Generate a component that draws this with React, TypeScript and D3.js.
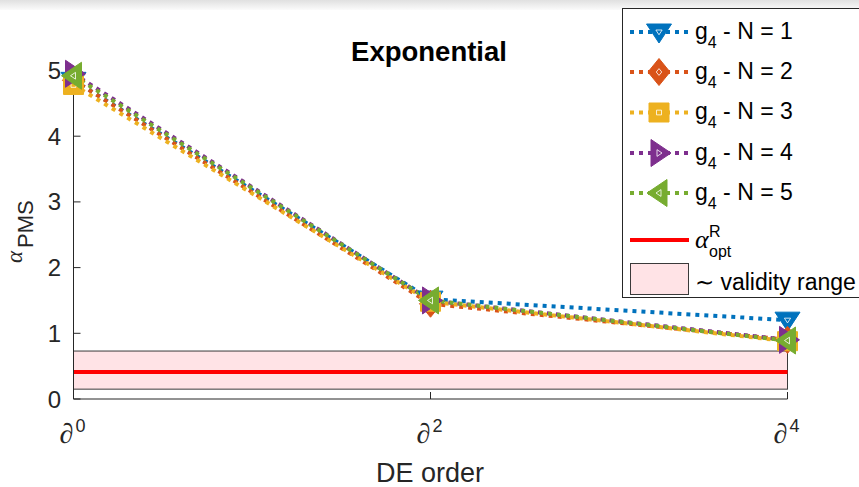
import React from "react";
import * as d3 from "d3";

const W = 859;
const H = 487;

const orders = [0, 2, 4];
const xTickLabels = ["0", "2", "4"];
const yTicks = [0, 1, 2, 3, 4, 5];

const seriesNames = ["N = 1", "N = 2", "N = 3", "N = 4", "N = 5"];
const seriesColors = ["#0072BD", "#D95319", "#EDB120", "#7E2F8E", "#77AC30"];
const seriesMarkers = ["triDown", "diamond", "square", "triRight", "triLeft"];
const n1 = [4.85, 1.52, 1.2];
const n2 = [4.85, 1.45, 0.9];
const n3 = [4.78, 1.48, 0.88];
const n4 = [4.95, 1.5, 0.9];
const n5 = [4.92, 1.5, 0.89];
const seriesValues = [n1, n2, n3, n4, n5];

const alphaOpt = 0.41;
const validityRange = [0.15, 0.73];

const x = d3.scaleLinear().domain([0, 4]).range([73.5, 787.5]);
const y = d3.scaleLinear().domain([0, 5]).range([399, 70.5]);

function markerPath(kind: string): string {
  switch (kind) {
    case "triDown":
      return "M-12.5,-8L12.5,-8L0,11Z";
    case "diamond":
      return "M0,-13.5L11,0L0,13.5L-11,0Z";
    case "square":
      return "M-10,-9.5L10,-9.5L10,9.5L-10,9.5Z";
    case "triRight":
      return "M-8,-13.5L12,0L-8,13.5Z";
    case "triLeft":
      return "M8,-13.5L-12,0L8,13.5Z";
  }
  return "";
}

function Marker({ kind, color, cx, cy }: { kind: string; color: string; cx: number; cy: number }) {
  const p = markerPath(kind);
  return (
    <g transform={`translate(${cx},${cy})`}>
      <path d={p} fill={color} stroke={color} strokeWidth={1} />
      <path d={p} transform="scale(0.25)" fill="none" stroke="#fff" strokeWidth={4} opacity={0.8} />
    </g>
  );
}

export default function App() {
  const line = d3
    .line<number>()
    .x((_, i) => x(orders[i]))
    .y((d) => y(d));

  const axisColor = "#262626";
  const sans = "'Liberation Sans', Arial, Helvetica, sans-serif";
  const serif = "'Liberation Serif', 'DejaVu Serif', serif";

  const legendRowsY = [32, 72, 112.5, 153, 193];

  return (
    <svg width={W} height={H} style={{ position: "absolute", left: 0, top: 0 }} xmlns="http://www.w3.org/2000/svg">
      <defs>
        <linearGradient id="topShade" x1="0" y1="0" x2="0" y2="1">
          <stop offset="0" stopColor="#e0e0e0" />
          <stop offset="1" stopColor="#fbfbfb" />
        </linearGradient>
      </defs>
      <rect x={0} y={0} width={W} height={H} fill="#fff" />
      <rect x={0} y={0} width={W} height={10} fill="url(#topShade)" />

      {/* validity band */}
      <rect
        x={x(0)}
        y={y(validityRange[1])}
        width={x(4) - x(0)}
        height={y(validityRange[0]) - y(validityRange[1])}
        fill="#FFE3E6"
        stroke="#3a3a3a"
        strokeWidth={1}
      />
      <line x1={x(0)} x2={x(4)} y1={y(alphaOpt)} y2={y(alphaOpt)} stroke="#FF0000" strokeWidth={4} />

      {/* axes */}
      <line x1={x(0)} x2={x(0)} y1={y(0)} y2={y(5)} stroke={axisColor} strokeWidth={1} />
      <line x1={x(0)} x2={x(4)} y1={y(0)} y2={y(0)} stroke={axisColor} strokeWidth={1} />
      {yTicks.map((t) => (
        <g key={"yt" + t}>
          <line x1={x(0)} x2={x(0) + 7} y1={y(t)} y2={y(t)} stroke={axisColor} strokeWidth={1} />
          <text x={61} y={y(t) + 8.5} textAnchor="end" fontFamily={sans} fontSize={24} fill={axisColor}>
            {t}
          </text>
        </g>
      ))}
      {orders.map((o, i) => (
        <g key={"xt" + o}>
          <line x1={x(o)} x2={x(o)} y1={y(0)} y2={y(0) - 7} stroke={axisColor} strokeWidth={1} />
          <text x={x(o) - 14} y={443} fontFamily={serif} fontStyle="italic" fontSize={28} fill={axisColor}>
            ∂
          </text>
          <text x={x(o) + 2} y={432} fontFamily={sans} fontSize={18} fill={axisColor}>
            {xTickLabels[i]}
          </text>
        </g>
      ))}

      {/* series */}
      {seriesValues.map((vals, si) => (
        <path
          key={"l" + si}
          d={line(vals) || ""}
          fill="none"
          stroke={seriesColors[si]}
          strokeWidth={4}
          strokeDasharray="4 5"
        />
      ))}
      {seriesValues.map((vals, si) =>
        vals.map((v, i) => (
          <Marker key={"m" + si + "-" + i} kind={seriesMarkers[si]} color={seriesColors[si]} cx={x(orders[i])} cy={y(v)} />
        ))
      )}

      {/* title and labels */}
      <text x={429} y={61} textAnchor="middle" fontFamily={sans} fontWeight="bold" fontSize={27.5} fill="#000">
        Exponential
      </text>
      <text x={430} y={482} textAnchor="middle" fontFamily={sans} fontSize={27} fill={axisColor}>
        DE order
      </text>
      <g transform="translate(22,263) rotate(-90)">
        <text x={0} y={0} fontFamily={serif} fontStyle="italic" fontSize={23} fill={axisColor}>
          α
        </text>
        <text x={15} y={11} fontFamily={sans} fontSize={22} fill={axisColor}>
          PMS
        </text>
      </g>

      {/* legend */}
      <rect x={622.5} y={8.5} width={245} height={289} fill="#fff" stroke={axisColor} strokeWidth={1} />
      {seriesNames.map((name, si) => (
        <g key={"lg" + si}>
          <line
            x1={630}
            x2={689}
            y1={legendRowsY[si]}
            y2={legendRowsY[si]}
            stroke={seriesColors[si]}
            strokeWidth={4}
            strokeDasharray="4 5"
          />
          <Marker kind={seriesMarkers[si]} color={seriesColors[si]} cx={659} cy={legendRowsY[si]} />
          <text x={695} y={legendRowsY[si] + 6.5} fontFamily={sans} fontSize={23} fill="#000">
            g
            <tspan fontSize={16} dy={9}>4</tspan>
            <tspan dy={-9}> - {name}</tspan>
          </text>
        </g>
      ))}
      <line x1={630} x2={689} y1={240} y2={240} stroke="#FF0000" strokeWidth={4} />
      <text x={695} y={248} fontFamily={serif} fontStyle="italic" fontSize={26} fill="#000">
        α
      </text>
      <text x={709} y={237} fontFamily={sans} fontSize={16} fill="#000">
        R
      </text>
      <text x={709} y={257} fontFamily={sans} fontSize={16} fill="#000">
        opt
      </text>
      <rect x={630.5} y={263.5} width={58} height={31} fill="#FFE3E6" stroke="#3a3a3a" strokeWidth={1} />
      <text x={695} y={290} fontFamily={sans} fontSize={23} fill="#000">
        ∼ validity range
      </text>
    </svg>
  );
}
